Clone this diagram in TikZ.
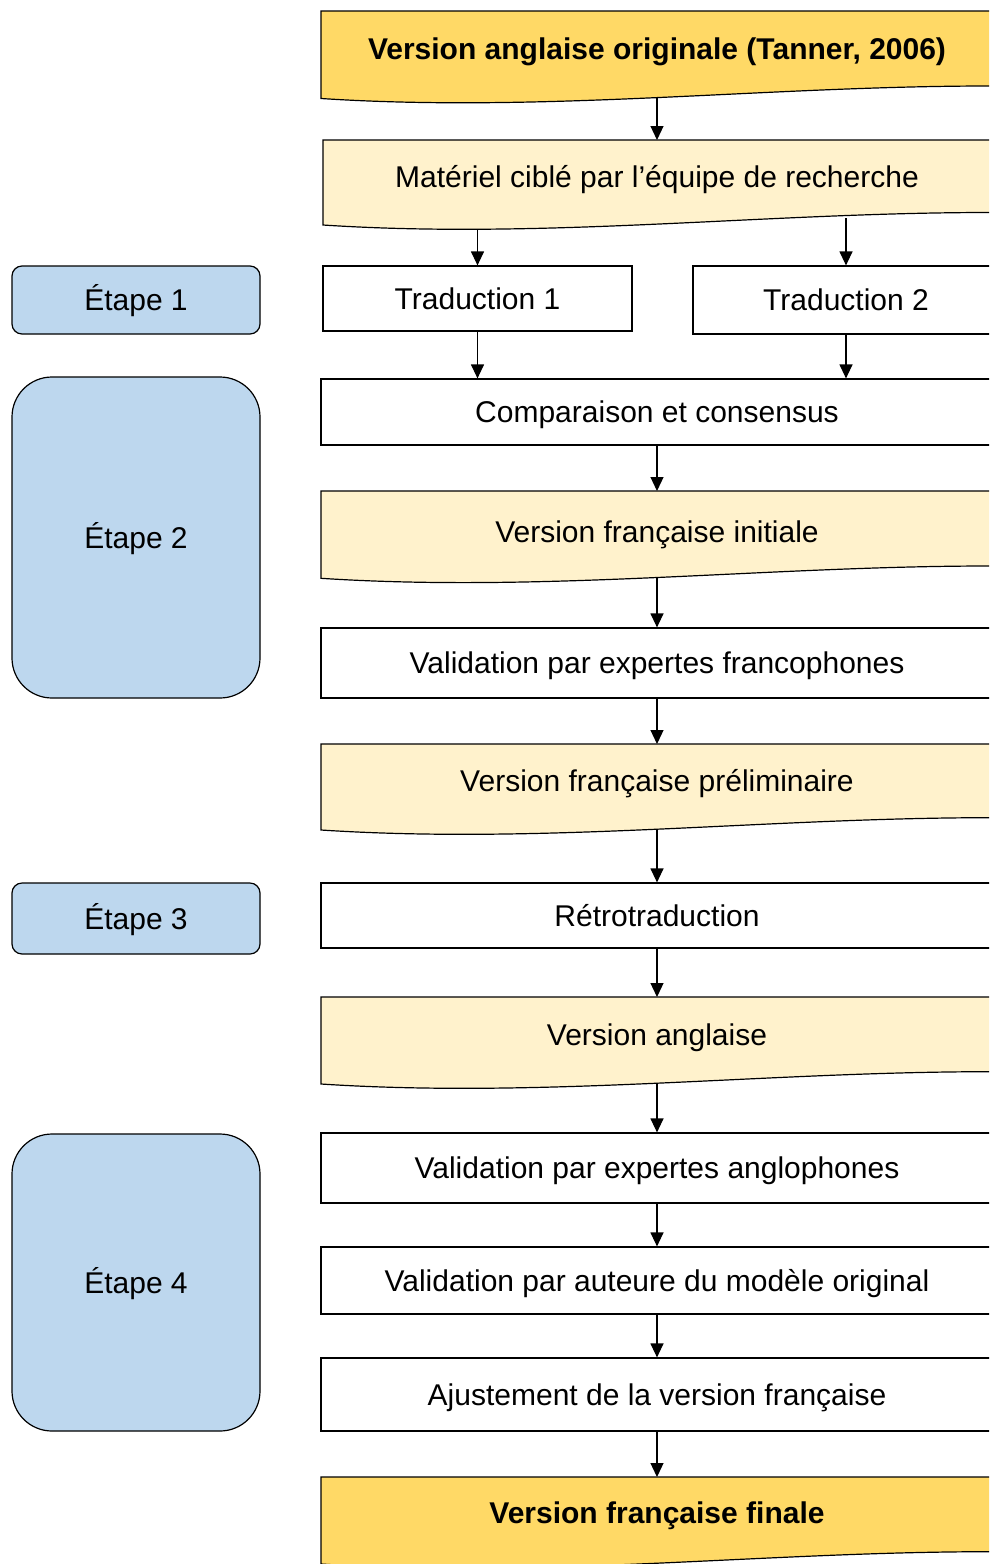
\documentclass[tikz,border=0pt]{standalone}
\usepackage{fontspec}
\setmainfont{Liberation Sans}
\usetikzlibrary{arrows.meta}
\definecolor{gold}{HTML}{FFD966}
\definecolor{cream}{HTML}{FFF2CC}
\definecolor{stepblue}{HTML}{BDD7EE}
\begin{document}
\begin{tikzpicture}[x=1pt,y=-1pt,
  every node/.style={font=\fontsize{30}{36}\selectfont, text height=21.5pt, text depth=0pt, inner sep=0pt},
  plainbox/.style={draw=black, line width=1.2pt, fill=white, rectangle, minimum width=672pt},
  stepbox/.style={draw=black, line width=1.2pt, fill=stepblue, rectangle, minimum width=248pt},
  docshape/.style={draw=black, line width=1.2pt},
  flow/.style={line width=1.2pt, -{Triangle[length=14pt,width=13pt]}}
]
\clip (0,0) rectangle (989,1564);
\fill[white] (0,0) rectangle (989,1564);

% document shapes
\filldraw[docshape, fill=gold]  (321,11)  -- (1005,11)  -- (1005,86)    -- (989,86)    .. controls (766,86)    and (544,113)    .. (321,98.5) -- cycle;
\filldraw[docshape, fill=cream] (323,140) -- (1005,140) -- (1005,212.5) -- (989,212.5) .. controls (766,212.5) and (544,239.5)  .. (323,225) -- cycle;
\filldraw[docshape, fill=cream] (321,491) -- (1005,491) -- (1005,566)   -- (989,566)   .. controls (766,566)   and (544,592.8)  .. (321,578.3) -- cycle;
\filldraw[docshape, fill=cream] (321,744) -- (1005,744) -- (1005,817.7) -- (989,817.7) .. controls (766,817.7) and (544,844.5)  .. (321,830) -- cycle;
\filldraw[docshape, fill=cream] (321,997) -- (1005,997) -- (1005,1071.7) -- (989,1071.7) .. controls (766,1071.7) and (544,1098.5) .. (321,1084) -- cycle;
\filldraw[docshape, fill=gold]  (321,1477) -- (1005,1477) -- (1005,1551.7) -- (989,1551.7) .. controls (766,1551.7) and (544,1578.5) .. (321,1564) -- cycle;

\node (orig) at (657,49) {\bfseries Version anglaise originale (Tanner, 2006)};
\node (mat)  at (657,177) {Matériel ciblé par l’équipe de recherche};
\node (init) at (657,532) {Version française initiale};
\node (prel) at (657,781) {Version française préliminaire};
\node (ang)  at (657,1035) {Version anglaise};
\node (fin)  at (657,1513) {\bfseries Version française finale};

\coordinate (orig-b) at (657,98);
\coordinate (mat-t)  at (657,140);
\coordinate (mat-b1) at (477.5,230);
\coordinate (mat-b2) at (846,218);
\coordinate (init-t) at (657,491);
\coordinate (init-b) at (657,577.7);
\coordinate (prel-t) at (657,744);
\coordinate (prel-b) at (657,829.4);
\coordinate (ang-t)  at (657,997);
\coordinate (ang-b)  at (657,1083.4);
\coordinate (fin-t)  at (657,1477);

% plain boxes
\node[plainbox, minimum width=309pt, minimum height=65pt] (trad1) at (477.5,298.5) {Traduction 1};
\node[plainbox, minimum width=306pt, minimum height=68pt] (trad2) at (846,300) {Traduction 2};
\node[plainbox, minimum height=66pt] (comp)   at (657,412)    {Comparaison et consensus};
\node[plainbox, minimum height=70pt] (valfr)  at (657,663)    {Validation par expertes francophones};
\node[plainbox, minimum height=65pt] (retro)  at (657,915.5)  {Rétrotraduction};
\node[plainbox, minimum height=70pt] (valen)  at (657,1168)   {Validation par expertes anglophones};
\node[plainbox, minimum height=67pt] (valaut) at (657,1280.5) {Validation par auteure du modèle original};
\node[plainbox, minimum height=73pt] (ajust)  at (657,1394.5) {Ajustement de la version française};

% step boxes
\node[stepbox, rounded corners=10pt, minimum height=68pt]  (e1) at (136,300)    {Étape 1};
\node[stepbox, rounded corners=40pt, minimum height=321pt] (e2) at (136,537.5)  {Étape 2};
\node[stepbox, rounded corners=10pt, minimum height=71pt]  (e3) at (136,918.5)  {Étape 3};
\node[stepbox, rounded corners=40pt, minimum height=297pt] (e4) at (136,1282.5) {Étape 4};

% connectors
\draw[flow] (orig-b) -- (mat-t);
\draw[flow] (mat-b1) -- (trad1.north);
\draw[flow] (mat-b2) -- (trad2.north);
\draw[flow] (trad1.south) -- (trad1.south |- comp.north);
\draw[flow] (trad2.south) -- (trad2.south |- comp.north);
\draw[flow] (comp.south) -- (init-t);
\draw[flow] (init-b) -- (valfr.north);
\draw[flow] (valfr.south) -- (prel-t);
\draw[flow] (prel-b) -- (retro.north);
\draw[flow] (retro.south) -- (ang-t);
\draw[flow] (ang-b) -- (valen.north);
\draw[flow] (valen.south) -- (valaut.north);
\draw[flow] (valaut.south) -- (ajust.north);
\draw[flow] (ajust.south) -- (fin-t);
\end{tikzpicture}
\end{document}
